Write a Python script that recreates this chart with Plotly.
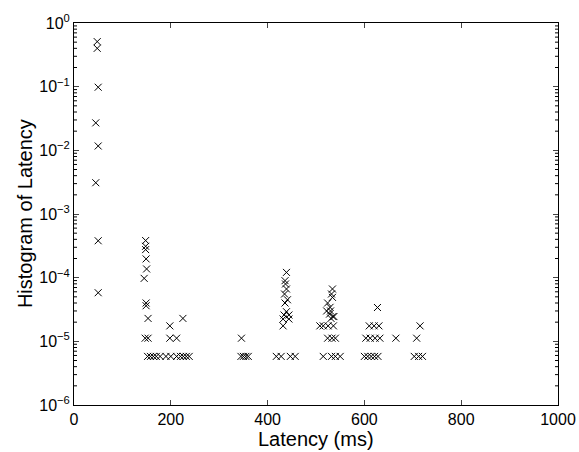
import plotly.graph_objects as go

# Data (latency in ms, normalized histogram value)
lat_a = [48, 48, 50, 45, 50, 45, 50, 50]
val_a = [0.51, 0.40, 0.098, 0.027, 0.0117, 0.0031, 0.00038, 5.8e-5]

lat_b = [148, 148, 148, 149, 150, 145, 149, 149, 153, 225, 198, 147, 153, 198, 212, 346]
val_b = [3.83e-4, 3.11e-4, 2.76e-4, 1.97e-4, 1.37e-4, 9.75e-5, 4.0e-5, 3.62e-5, 2.29e-5, 2.29e-5,
         1.75e-5, 1.12e-5, 1.12e-5, 1.12e-5, 1.12e-5, 1.12e-5]

lat_c = [439, 436, 437, 439, 435, 441, 436, 439, 434, 444, 432, 444, 432]
val_c = [1.21e-4, 8.97e-5, 7.96e-5, 6.64e-5, 5.54e-5, 4.5e-5, 4.0e-5, 2.92e-5, 2.59e-5, 2.59e-5,
         2.24e-5, 2.24e-5, 1.75e-5]

lat_d = [534, 532, 534, 524, 529, 522, 530, 528, 535, 537, 531, 508, 515, 525, 536, 524, 533, 540]
val_d = [6.64e-5, 5.54e-5, 4.9e-5, 4.0e-5, 3.42e-5, 3.0e-5, 3.0e-5, 2.68e-5, 2.45e-5, 2.45e-5,
         2.29e-5, 1.75e-5, 1.75e-5, 1.75e-5, 1.75e-5, 1.12e-5, 1.12e-5, 1.12e-5]

lat_e = [627, 610, 620, 630, 715, 603, 612, 622, 632, 665, 708]
val_e = [3.4e-5, 1.75e-5, 1.75e-5, 1.75e-5, 1.75e-5, 1.12e-5, 1.12e-5, 1.12e-5, 1.12e-5, 1.12e-5, 1.12e-5]

lat_bottom = [152, 158, 164, 170, 178, 190, 200, 212, 220, 226, 232, 238,
              345, 350, 355, 360, 418, 428, 447, 457, 515, 532, 540, 550,
              600, 607, 614, 621, 628, 703, 712, 720]
val_bottom = [5.8e-6] * len(lat_bottom)

x_all = lat_a + lat_b + lat_c + lat_d + lat_e + lat_bottom
y_all = val_a + val_b + val_c + val_d + val_e + val_bottom

x_ticks = [0, 200, 400, 600, 800, 1000]
y_tickvals = [1e-6, 1e-5, 1e-4, 1e-3, 1e-2, 1e-1, 1]
y_ticktext = ["10<sup>−6</sup>", "10<sup>−5</sup>", "10<sup>−4</sup>", "10<sup>−3</sup>",
              "10<sup>−2</sup>", "10<sup>−1</sup>", "10<sup>0</sup>"]
y_minor_vals = [m * 10.0 ** e for e in range(-6, 0) for m in range(2, 10)]

W, H = 579, 452
ML, MR, MT, MB = 74, 21, 23, 47
plot_w = W - ML - MR
minor_len = 3.0 / plot_w  # 3 px minor ticks, in paper units

fig = go.Figure()
fig.add_trace(go.Scatter(
    x=x_all, y=y_all, mode="markers",
    marker=dict(symbol="x-thin", size=7, line=dict(color="black", width=1), color="black"),
    showlegend=False,
))

# minor ticks of the log axis (left and mirrored right)
shapes = []
for v in y_minor_vals:
    for x0, x1 in ((0, minor_len), (1 - minor_len, 1)):
        shapes.append(dict(type="line", xref="paper", yref="y", x0=x0, x1=x1, y0=v, y1=v,
                           line=dict(color="black", width=1)))

font = "Liberation Sans, Arial, Helvetica, sans-serif"
fig.update_layout(
    template="none",
    width=W, height=H, autosize=False,
    margin=dict(l=ML, r=MR, t=MT, b=MB, autoexpand=False),
    plot_bgcolor="white", paper_bgcolor="white",
    font=dict(family=font, size=16, color="black"),
    xaxis=dict(
        range=[0, 1000], tickvals=x_ticks, ticks="inside", ticklen=5,
        showline=True, linecolor="black", linewidth=1, mirror="ticks",
        showgrid=False, zeroline=False, automargin=False,
        tickfont=dict(size=16),
    ),
    yaxis=dict(
        type="log", range=[-6, 0], tickvals=y_tickvals, ticktext=y_ticktext,
        ticks="inside", ticklen=5,
        showline=True, linecolor="black", linewidth=1, mirror="ticks",
        showgrid=False, zeroline=False, automargin=False,
        tickfont=dict(size=16),
    ),
    shapes=shapes,
    annotations=[
        dict(text="Latency (ms)", x=0.5, y=-0.089, xref="paper", yref="paper",
             xanchor="center", yanchor="middle", showarrow=False, font=dict(size=20)),
        dict(text="Histogram of Latency", x=-0.101, y=0.5, xref="paper", yref="paper",
             xanchor="center", yanchor="middle", textangle=-90, showarrow=False,
             font=dict(size=20)),
    ],
)

fig.write_html("out.html", config={"displayModeBar": False},
               post_script="document.body.style.margin='0';")
